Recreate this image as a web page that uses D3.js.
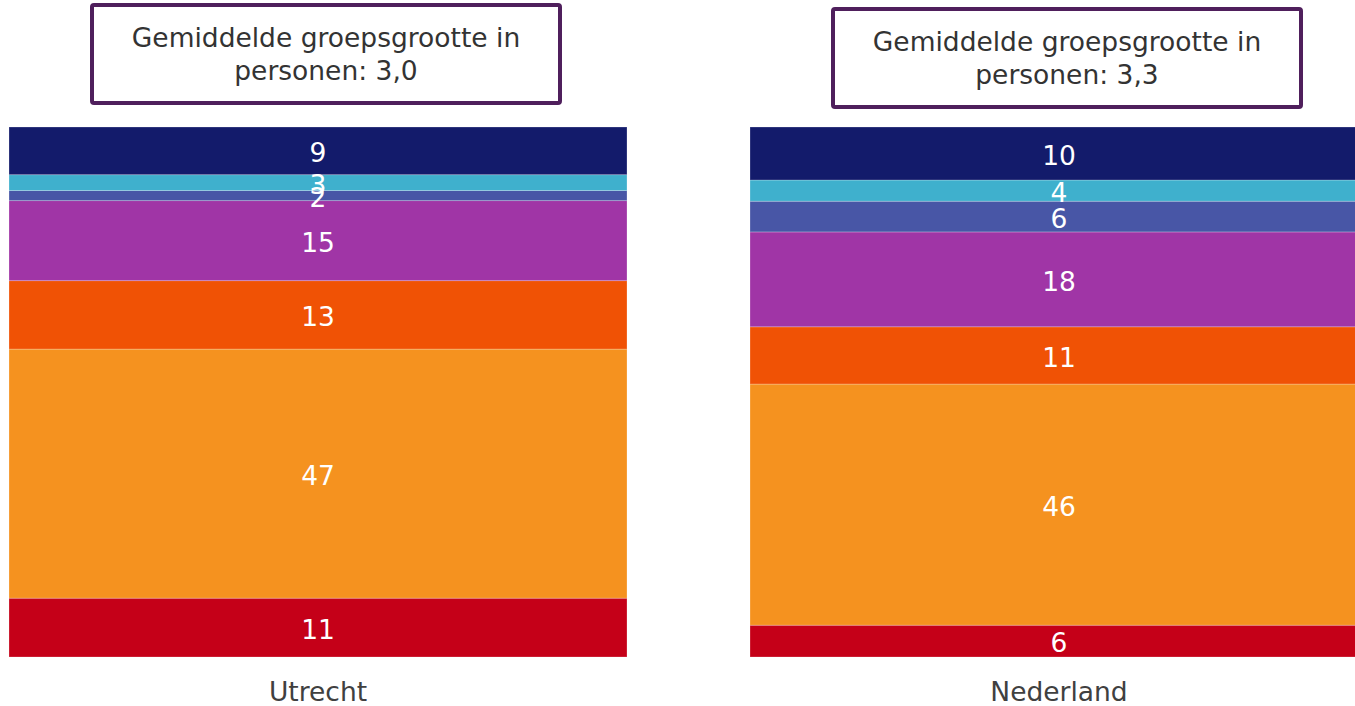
<!doctype html>
<html>
<head>
    <meta charset="utf-8">
    <script src="https://d3js.org/d3.v7.min.js"></script>
    <style>
      body { margin: 0; background: #fff; }
      text { font-family: "DejaVu Sans", Verdana, sans-serif; }
    </style>
</head>
<body>
    <svg id="chart" width="1355" height="706"></svg>
    <script>
        // regions shown as bars
        const regions = ["Utrecht", "Nederland"];
        // segment keys, bottom to top
        const segments = ["c1", "c2", "c3", "c4", "c5", "c6", "c7"];
        // percentages, bottom to top
        const utrechtValues = [11.1, 47.0, 12.9, 15.1, 1.9, 3.0, 9.0];
        const nederlandValues = [6.0, 45.5, 10.8, 17.9, 5.8, 4.0, 10.0];
        // average group size texts
        const avgSize = ["3,0", "3,3"];

        const colors = ["#c50018", "#f5921f", "#f05205", "#a035a6", "#4856a6", "#3fb0cd", "#131b6b"];

        const svg = d3.select("#chart");

        const rows = regions.map((r, i) => {
          const vals = i === 0 ? utrechtValues : nederlandValues;
          const row = { region: r };
          segments.forEach((s, j) => row[s] = vals[j]);
          return row;
        });

        const stack = d3.stack().keys(segments);
        const series = stack(rows);

        // second bar runs past the right edge of the picture
        const x = d3.scaleBand()
          .domain(regions)
          .range([9, 1368])
          .paddingInner(0.166)
          .paddingOuter(0);

        const y = d3.scaleLinear()
          .domain([0, 100])
          .range([657, 127]);

        const color = d3.scaleOrdinal().domain(segments).range(colors);

        const layer = svg.append("g")
          .selectAll("g")
          .data(series)
          .join("g")
          .attr("fill", d => color(d.key));

        layer.selectAll("rect")
          .data(d => d)
          .join("rect")
          .attr("x", d => x(d.data.region))
          .attr("width", x.bandwidth())
          .attr("y", d => y(d[1]))
          .attr("height", d => y(d[0]) - y(d[1]))
          .attr("stroke", "rgba(255,255,255,0.3)")
          .attr("stroke-width", 0.8);

        // value labels
        const labels = svg.append("g");
        series.forEach(s => {
          s.forEach(d => {
            labels.append("text")
              .attr("x", x(d.data.region) + x.bandwidth() / 2)
              .attr("y", (y(d[0]) + y(d[1])) / 2)
              .attr("dy", "0.43em")
              .attr("text-anchor", "middle")
              .attr("fill", "#fff")
              .attr("font-size", 26.5)
              .text(Math.round(d[1] - d[0]));
          });
        });

        // category axis
        const xAxis = svg.append("g")
          .attr("transform", "translate(0,657)")
          .call(d3.axisBottom(x).tickSize(0).tickPadding(25));
        xAxis.select(".domain").remove();
        xAxis.selectAll("text")
          .attr("font-size", 26.5)
          .attr("fill", "#404040")
          .attr("font-family", "DejaVu Sans, Verdana, sans-serif");

        // annotation boxes
        const boxTop = [5, 9];
        regions.forEach((r, i) => {
          const bx = x(r) + 83;
          const g = svg.append("g").attr("transform", `translate(${bx},${boxTop[i]})`);
          g.append("rect")
            .attr("width", 468)
            .attr("height", 98)
            .attr("rx", 2)
            .attr("fill", "#fff")
            .attr("stroke", "#4f1f5c")
            .attr("stroke-width", 4);
          g.append("text")
            .attr("x", 234)
            .attr("y", 42)
            .attr("text-anchor", "middle")
            .attr("font-size", 26.5)
            .attr("fill", "#333")
            .text("Gemiddelde groepsgrootte in");
          g.append("text")
            .attr("x", 234)
            .attr("y", 75)
            .attr("text-anchor", "middle")
            .attr("font-size", 26.5)
            .attr("fill", "#333")
            .text("personen: " + avgSize[i]);
        });
    </script>
</body>
</html>
